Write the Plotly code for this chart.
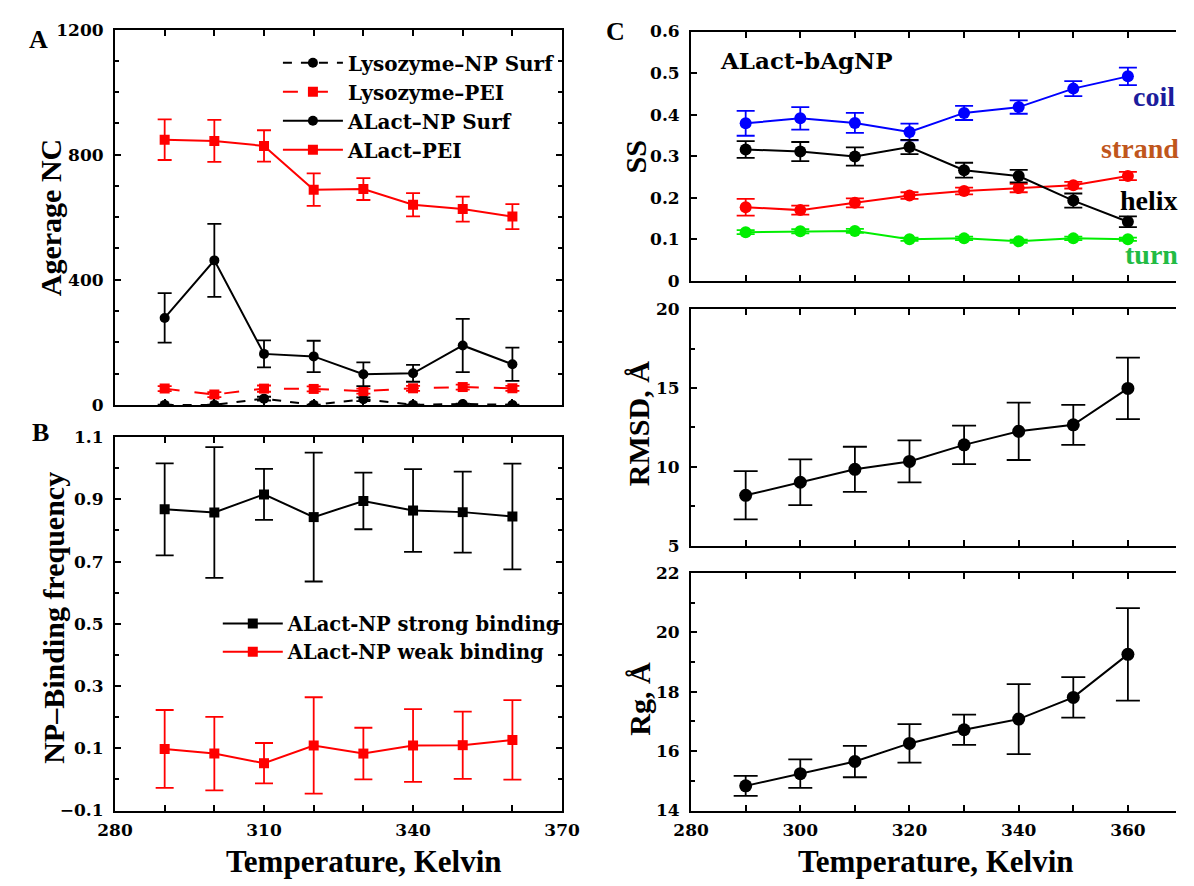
import plotly.graph_objects as go

temps = [290, 300, 310, 320, 330, 340, 350, 360]

# Panel A: average number of contacts
lyso_np = [0, 0, 20, 0, 18, 0, 3, 0]
lyso_np_err = [1, 1, 6, 1, 6, 1, 1, 1]
lyso_pei = [52, 33, 52, 51, 44, 53, 57, 53]
lyso_pei_err = [8, 8, 10, 8, 8, 8, 8, 8]
alact_np = [278, 462, 163, 155, 98, 101, 190, 130]
alact_np_err = [79, 117, 43, 50, 38, 27, 85, 53]
alact_pei = [848, 844, 828, 688, 690, 640, 626, 602]
alact_pei_err = [65, 67, 50, 52, 35, 37, 40, 40]

# Panel B: binding frequency
strong = [0.868, 0.858, 0.916, 0.843, 0.895, 0.864, 0.859, 0.845]
strong_err = [0.148, 0.21, 0.082, 0.207, 0.091, 0.133, 0.13, 0.17]
weak = [0.098, 0.083, 0.052, 0.109, 0.083, 0.109, 0.11, 0.127]
weak_err = [0.125, 0.118, 0.065, 0.155, 0.083, 0.117, 0.108, 0.128]

# Panel C: secondary structure
coil = [0.379, 0.391, 0.380, 0.358, 0.404, 0.418, 0.4625, 0.492]
coil_err = [0.03, 0.027, 0.024, 0.02, 0.017, 0.016, 0.018, 0.021]
helix = [0.316, 0.311, 0.299, 0.322, 0.266, 0.252, 0.193, 0.142]
helix_err = [0.02, 0.023, 0.022, 0.017, 0.018, 0.015, 0.017, 0.013]
strand = [0.177, 0.17, 0.1875, 0.205, 0.216, 0.223, 0.23, 0.252]
strand_err = [0.02, 0.011, 0.011, 0.008, 0.008, 0.01, 0.008, 0.01]
turn = [0.117, 0.119, 0.12, 0.1, 0.102, 0.095, 0.102, 0.1]
turn_err = [0.005, 0.005, 0.005, 0.004, 0.004, 0.004, 0.004, 0.004]

rmsd = [8.19, 9.02, 9.84, 10.34, 11.39, 12.25, 12.66, 14.97]
rmsd_err = [1.53, 1.45, 1.43, 1.33, 1.22, 1.82, 1.27, 1.95]
rg = [14.83, 15.24, 15.65, 16.26, 16.72, 17.08, 17.81, 19.26]
rg_err = [0.34, 0.48, 0.53, 0.65, 0.51, 1.18, 0.68, 1.56]

FONT = "Liberation Serif"
WIDE = "DejaVu Serif"
W, H = 1194, 886

def px(x):
    return x / W

def py(y):
    return (H - y) / H

fig = go.Figure()

def trace(x, y, err, color, symbol, size, dash, name, xa, ya, legend=None, show=False, cap=7, lw=2):
    fig.add_trace(go.Scatter(
        x=x, y=y, mode="lines+markers", name=name,
        line=dict(color=color, width=lw, dash=dash),
        marker=dict(color=color, symbol=symbol, size=size),
        error_y=dict(type="data", array=err, color=color, thickness=1.8, width=cap, visible=True),
        xaxis=xa, yaxis=ya, showlegend=show, legend=legend,
    ))

# Panel A
trace(temps, lyso_np, lyso_np_err, "black", "circle", 10, "dash", "Lysozyme\u2013NP Surf", "x", "y", "legend", True, cap=7)
trace(temps, lyso_pei, lyso_pei_err, "#ff0000", "square", 10, "longdash", "Lysozyme\u2013PEI", "x", "y", "legend", True, cap=7)
trace(temps, alact_np, alact_np_err, "black", "circle", 10, "solid", "ALact\u2013NP Surf", "x", "y", "legend", True, cap=7)
trace(temps, alact_pei, alact_pei_err, "#ff0000", "square", 10, "solid", "ALact\u2013PEI", "x", "y", "legend", True, cap=7)

# Panel B
trace(temps, strong, strong_err, "black", "square", 10, "solid", "ALact-NP strong binding", "x2", "y2", "legend2", True, cap=9)
trace(temps, weak, weak_err, "#ff0000", "square", 10, "solid", "ALact-NP weak binding", "x2", "y2", "legend2", True, cap=9)

# Panel C SS
trace(temps, coil, coil_err, "#0000ff", "circle", 12, "solid", "coil", "x3", "y3", cap=9)
trace(temps, strand, strand_err, "#ff0000", "circle", 12, "solid", "strand", "x3", "y3", cap=9)
trace(temps, turn, turn_err, "#00ee00", "circle", 12, "solid", "turn", "x3", "y3", cap=9)
trace(temps, helix, helix_err, "black", "circle", 12, "solid", "helix", "x3", "y3", cap=9)

# RMSD, Rg
trace(temps, rmsd, rmsd_err, "black", "circle", 13, "solid", "RMSD", "x4", "y4", cap=12)
trace(temps, rg, rg_err, "black", "circle", 13, "solid", "Rg", "x5", "y5", cap=12)

tickfont = dict(family=WIDE, size=17, color="black", weight="bold")

def xax(domain, anchor, rng, dtick, mdtick, labels, mirror="ticks"):
    return dict(domain=domain, anchor=anchor, range=rng, showline=True, linewidth=2, linecolor="black",
                mirror=mirror, ticks="inside", ticklen=6, tickwidth=1.5, tickcolor="black",
                dtick=dtick, tick0=280, showticklabels=labels, tickfont=tickfont, showgrid=False,
                zeroline=False, ticklabelstandoff=3,
                minor=dict(dtick=mdtick, tick0=280, ticks="inside", ticklen=6, tickwidth=1.5, tickcolor="black", showgrid=False))

def yax(domain, anchor, rng, dtick, tick0, mdtick=None, mirror="ticks"):
    d = dict(domain=domain, anchor=anchor, range=rng, showline=True, linewidth=2, linecolor="black",
             mirror=mirror, ticks="inside", ticklen=6, tickwidth=1.5, tickcolor="black",
             dtick=dtick, tick0=tick0, tickfont=tickfont, showgrid=False, zeroline=False,
             ticklabelstandoff=6)
    if mdtick:
        d["minor"] = dict(dtick=mdtick, tick0=tick0, ticks="inside", ticklen=4, tickwidth=1.5,
                          tickcolor="black", showgrid=False)
    return d

xA = [px(100), px(561)]
xC = [px(694), 1.0]
C_end = 280 + (1194 - 694) / 56.3 * 10

legfont = dict(family=WIDE, size=20, color="black", weight="bold")
legfont2 = dict(family=WIDE, size=19.5, color="black", weight="bold")

fig.update_layout(
    width=W, height=H,
    margin=dict(l=0, r=0, t=0, b=0),
    paper_bgcolor="white", plot_bgcolor="white",
    font=dict(family=FONT, size=20, color="black", weight="bold"),
    xaxis=xax(xA, "y", [280, 370], 30, 10, False),
    yaxis=yax([py(404), py(20)], "x", [0, 1200], 400, 0, 100),
    xaxis2=xax(xA, "y2", [280, 370], 30, 10, True),
    yaxis2=yax([py(819), py(437)], "x2", [-0.1, 1.1], 0.2, -0.1, 0.1),
    xaxis3=xax(xC, "y3", [280, C_end], 20, 10, False),
    yaxis3=yax([py(277), py(22)], "x3", [0, 0.6], 0.1, 0, None, mirror=False),
    xaxis4=xax(xC, "y4", [280, C_end], 20, 10, False),
    yaxis4=yax([py(548), py(306)], "x4", [5, 20], 5, 5, 2.5, mirror=False),
    xaxis5=xax(xC, "y5", [280, C_end], 20, 10, True),
    yaxis5=yax([py(819), py(576)], "x5", [14, 22], 2, 14, 1, mirror=False),
    legend=dict(x=px(268), y=py(34), xanchor="left", yanchor="top", bgcolor="rgba(0,0,0,0)",
                font=legfont, tracegroupgap=0, itemwidth=60),
    legend2=dict(x=px(206), y=py(608), xanchor="left", yanchor="top", bgcolor="rgba(0,0,0,0)",
                 font=legfont2, tracegroupgap=0, itemwidth=60),
)

ann = []
def text(x, y, s, size, color="black", angle=0, xanchor="center", xref="paper", yref="paper", family=FONT):
    ann.append(dict(x=x, y=y, text=s, showarrow=False, xref=xref, yref=yref, textangle=angle,
                    xanchor=xanchor, yanchor="middle",
                    font=dict(family=family, size=size, color=color, weight="bold")))

# Panel letters
text(px(21), py(30), "A", 26)
text(px(23), py(432), "B", 26)
text(px(616), py(22), "C", 26)
# Axis titles
text(px(33), py(213), "Agerage NC", 30, angle=-90)
text(px(37), py(622), "NP\u2013Binding frequency", 30, angle=-90)
text(px(357), py(871), "Temperature, Kelvin", 31)
text(px(947), py(871), "Temperature, Kelvin", 31)
text(px(637), py(150), "SS", 30, angle=-90)
text(px(640), py(423), "RMSD, \u00c5", 30, angle=-90)
text(px(640), py(705), "Rg, \u00c5", 30, angle=-90)
# Panel C labels
text(px(722), py(52), "ALact-bAgNP", 23, xanchor="left", family=WIDE)
text(px(1148), py(89), "coil", 28, color="#1c1c9c", xanchor="left")
text(px(1115), py(142), "strand", 28, color="#c0561c", xanchor="left")
text(px(1134), py(195), "helix", 28, color="black", xanchor="left")
text(px(1139), py(250), "turn", 28, color="#22bb44", xanchor="left")

fig.update_layout(annotations=ann)
fig.write_html("out.html", config={"displayModeBar": False},
               post_script="document.body.style.margin='0';document.body.style.overflow='hidden';")
